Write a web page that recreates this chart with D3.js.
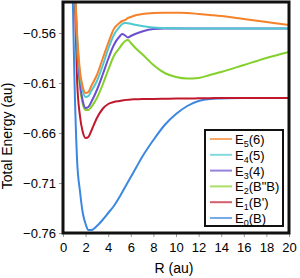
<!DOCTYPE html>
<html>
<head>
<meta charset="utf-8">
<script src="https://cdn.jsdelivr.net/npm/d3@7"></script>
<style>
  body { margin: 0; background: #fff; }
  svg { display: block; font-family: "Liberation Sans", Arial, sans-serif; }
</style>
</head>
<body>
<svg id="chart"></svg>
<script>
// R grid (au) shared by all states
var rValues = [0.75, 1.0, 1.25, 1.5, 1.75, 2.0, 2.25, 2.5, 3, 3.5, 4, 4.5, 5, 5.25, 5.5, 5.75, 6, 6.5, 7, 8, 9, 10, 11, 12, 13, 14, 16, 18, 20];

var e5 = [-0.42, -0.50, -0.561, -0.598, -0.614, -0.620, -0.619, -0.613, -0.602, -0.586, -0.570, -0.556, -0.550, -0.548, -0.547, -0.545, -0.544, -0.542, -0.541, -0.540, -0.5397, -0.5398, -0.540, -0.541, -0.542, -0.543, -0.546, -0.549, -0.552];
var e4 = [-0.42, -0.50, -0.565, -0.602, -0.618, -0.624, -0.623, -0.618, -0.608, -0.593, -0.576, -0.562, -0.554, -0.551, -0.550, -0.5502, -0.5508, -0.552, -0.553, -0.5545, -0.555, -0.5553, -0.5555, -0.5555, -0.5555, -0.5555, -0.5555, -0.5555, -0.5555];
var e3 = [-0.42, -0.50, -0.570, -0.610, -0.628, -0.635, -0.634, -0.629, -0.617, -0.602, -0.586, -0.572, -0.5635, -0.561, -0.5625, -0.5645, -0.563, -0.5605, -0.5585, -0.556, -0.5555, -0.5555, -0.5555, -0.5555, -0.5555, -0.5555, -0.5555, -0.5555, -0.5555];
var e2 = [-0.42, -0.50, -0.575, -0.614, -0.631, -0.637, -0.637, -0.634, -0.625, -0.612, -0.597, -0.583, -0.575, -0.571, -0.568, -0.567, -0.570, -0.576, -0.581, -0.592, -0.600, -0.604, -0.6055, -0.605, -0.602, -0.599, -0.592, -0.585, -0.579];
var e1 = [-0.42, -0.50, -0.608, -0.643, -0.659, -0.665, -0.664, -0.658, -0.645, -0.636, -0.631, -0.629, -0.628, -0.6275, -0.627, -0.6268, -0.6265, -0.6263, -0.626, -0.626, -0.6258, -0.6255, -0.6255, -0.6253, -0.6252, -0.625, -0.625, -0.625, -0.625];
var e0 = [-0.46, -0.600, -0.688, -0.718, -0.740, -0.751, -0.757, -0.757, -0.753, -0.747, -0.740, -0.733, -0.724, -0.719, -0.714, -0.709, -0.704, -0.694, -0.684, -0.667, -0.652, -0.641, -0.633, -0.628, -0.626, -0.6255, -0.625, -0.625, -0.625];

var yTicks = [-0.76, -0.71, -0.66, -0.61, -0.56];
var xTicks = [0, 2, 4, 6, 8, 10, 12, 14, 16, 18, 20];

var series = [
  { name: "5", arg: "(6)", color: "#f5822a", values: e5 },
  { name: "4", arg: "(5)", color: "#4ec9cf", values: e4 },
  { name: "3", arg: "(4)", color: "#6b4fcf", values: e3 },
  { name: "2", arg: "(B\"B)", color: "#84d02a", values: e2 },
  { name: "1", arg: "(B')", color: "#c0192d", values: e1 },
  { name: "0", arg: "(B)", color: "#3c87e0", values: e0 }
];

var width = 300, height = 278;
var margin = { left: 63, right: 11, top: 3, bottom: 45 };

var svg = d3.select("#chart").attr("width", width).attr("height", height);

var x = d3.scaleLinear().domain([0, 20]).range([margin.left, width - margin.right]);
var y = d3.scaleLinear().domain([-0.76, -0.53]).range([height - margin.bottom, margin.top]);

svg.append("clipPath").attr("id", "clip")
  .append("rect")
  .attr("x", x(0)).attr("y", y(-0.53))
  .attr("width", x(20) - x(0)).attr("height", y(-0.76) - y(-0.53));

var line = d3.line()
  .x(function(d) { return x(d[0]); })
  .y(function(d) { return y(d[1]); })
  .curve(d3.curveMonotoneX);

// draw lowest state last? draw top-down so blue ends on top at the left
var plot = svg.append("g").attr("clip-path", "url(#clip)");
series.slice().reverse().forEach(function(s) {
  var pts = rValues.map(function(r, i) { return [r, s.values[i]]; });
  plot.append("path")
    .attr("d", line(pts))
    .attr("fill", "none")
    .attr("stroke", s.color)
    .attr("stroke-width", 2);
});

// axes
var xAxis = svg.append("g")
  .attr("transform", "translate(0," + y(-0.76) + ")")
  .call(d3.axisBottom(x).tickValues(xTicks).tickSize(4).tickPadding(6));
var yAxis = svg.append("g")
  .attr("transform", "translate(" + x(0) + ",0)")
  .call(d3.axisLeft(y).tickValues(yTicks).tickSize(4).tickPadding(3).tickFormat(d3.format(".2f")));

[xAxis, yAxis].forEach(function(a) {
  a.select(".domain").remove();
  a.selectAll(".tick line").attr("stroke", "#999");
  a.selectAll("text").attr("font-size", 13).attr("fill", "#000")
    .style("font-family", "'Liberation Sans', Arial, sans-serif");
});

// frame
svg.append("rect")
  .attr("x", x(0)).attr("y", y(-0.53) - 1)
  .attr("width", x(20) - x(0)).attr("height", y(-0.76) - y(-0.53) + 1)
  .attr("fill", "none").attr("stroke", "#111").attr("stroke-width", 3);

// titles
svg.append("text")
  .attr("x", (x(0) + x(20)) / 2 - 2).attr("y", 273)
  .attr("text-anchor", "middle").attr("font-size", 14)
  .text("R (au)");
svg.append("text")
  .attr("transform", "translate(12," + 136 + ") rotate(-90)")
  .attr("text-anchor", "middle").attr("font-size", 14)
  .text("Total Energy (au)");

// legend
var legend = svg.append("g").attr("transform", "translate(205,130)");
legend.append("rect")
  .attr("width", 78).attr("height", 96)
  .attr("fill", "#fff").attr("stroke", "#111").attr("stroke-width", 2);

var item = legend.selectAll(".item")
  .data(series)
  .enter().append("g")
  .attr("class", "item")
  .attr("transform", function(d, i) { return "translate(0," + (9 + i * 15.8) + ")"; });

item.append("line")
  .attr("x1", 5).attr("x2", 27)
  .attr("stroke", function(d) { return d.color; })
  .attr("stroke-opacity", 0.7)
  .attr("stroke-width", 2);

var lt = item.append("text")
  .attr("x", 30).attr("y", 5)
  .attr("font-size", 13);
lt.append("tspan").text("E");
lt.append("tspan").attr("font-size", 9).attr("dy", 3).text(function(d) { return d.name; });
lt.append("tspan").attr("dy", -3).text(function(d) { return d.arg; });
</script>
</body>
</html>
